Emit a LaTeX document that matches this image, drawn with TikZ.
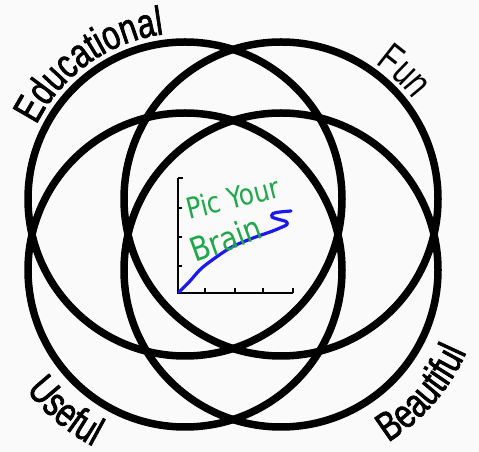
\documentclass[tikz,border=0pt]{standalone}
\usepackage{fontspec}
\usetikzlibrary{decorations.text,calc}
\newfontfamily\labfont[FakeStretch=0.76,FakeBold=1.6]{Liberation Sans}
\newfontfamily\funfont[FakeStretch=0.74]{Liberation Sans}
\newfontfamily\handfont[FakeStretch=0.85]{DejaVu Sans}
\definecolor{bg}{RGB}{250,250,250}
\definecolor{hgreen}{RGB}{30,168,72}
\definecolor{hblue}{RGB}{25,25,240}
\begin{document}
\begin{tikzpicture}[x=1pt,y=1pt,
  ring/.style={line width=7.5pt, draw=black},
  axisline/.style={line width=2.6pt, black},
  tickline/.style={line width=1.8pt, black},
  handtext/.style={font=\handfont\fontsize{29}{29}\selectfont, text=hgreen, inner sep=0pt},
  curvetext/.style={decorate, decoration={text along path, text align=center, text={|\labfont\fontsize{41}{41}\selectfont|#1}}},
  funtext/.style={decorate, decoration={text along path, text align=center, text={|\funfont\fontsize{41}{41}\selectfont|#1}}}
]
\fill[bg] (0,0) rectangle (479,452);
\useasboundingbox (0,0) rectangle (479,452);
\coordinate (tl) at (185,253);
\coordinate (tr) at (281,253);
\coordinate (bl) at (185,182);
\coordinate (br) at (281,182);
\draw[ring] (tl) circle[radius=157];
\draw[ring] (tr) circle[radius=157];
\draw[ring] (bl) circle[radius=157];
\draw[ring] (br) circle[radius=157];
% labels
\path[curvetext=Educational] ($(tl)+(165.4:166)$) arc[start angle=165.4, end angle=85.4, radius=166];
\path[funtext=Fun] ($(tr)+(86:165)$) arc[start angle=86, end angle=6, radius=165];
\path[curvetext=Useful] ($(bl)+(189.8:199)$) arc[start angle=189.8, end angle=269.8, radius=199];
\path[curvetext=Beautiful] ($(br)+(-81:203)$) arc[start angle=-81, end angle=-1, radius=203];
% chart
\coordinate (o) at (178,159);
\coordinate (ytop) at (178,274);
\coordinate (xend) at (293,159);
\draw[axisline] (ytop) -- (o) -- (xend);
\draw[tickline] (ytop) -- ++(5,0);
\foreach \yy in {244,215,186} \draw[tickline] (178,\yy) -- ++(4,0);
\foreach \xx in {205,235,263,293} \draw[tickline] (\xx,159) -- ++(0,5);
\draw[hblue, line width=3.2pt, line cap=round, line join=round]
  plot[smooth, tension=0.5] coordinates {(179,160) (190,171) (203,185) (230,204) (253,214) (270,220) (280,224) (287,227.5) (286,230.5) (279,232.5) (272,235) (273,238.5) (280,240) (291,241)};
\node[handtext, rotate=14, anchor=base west] (pic) at (189,232) {Pic Your};
\node[handtext, rotate=20, anchor=base west, font=\handfont\fontsize{33}{33}\selectfont] (brain) at (195,189) {Brain};
\end{tikzpicture}
\end{document}
